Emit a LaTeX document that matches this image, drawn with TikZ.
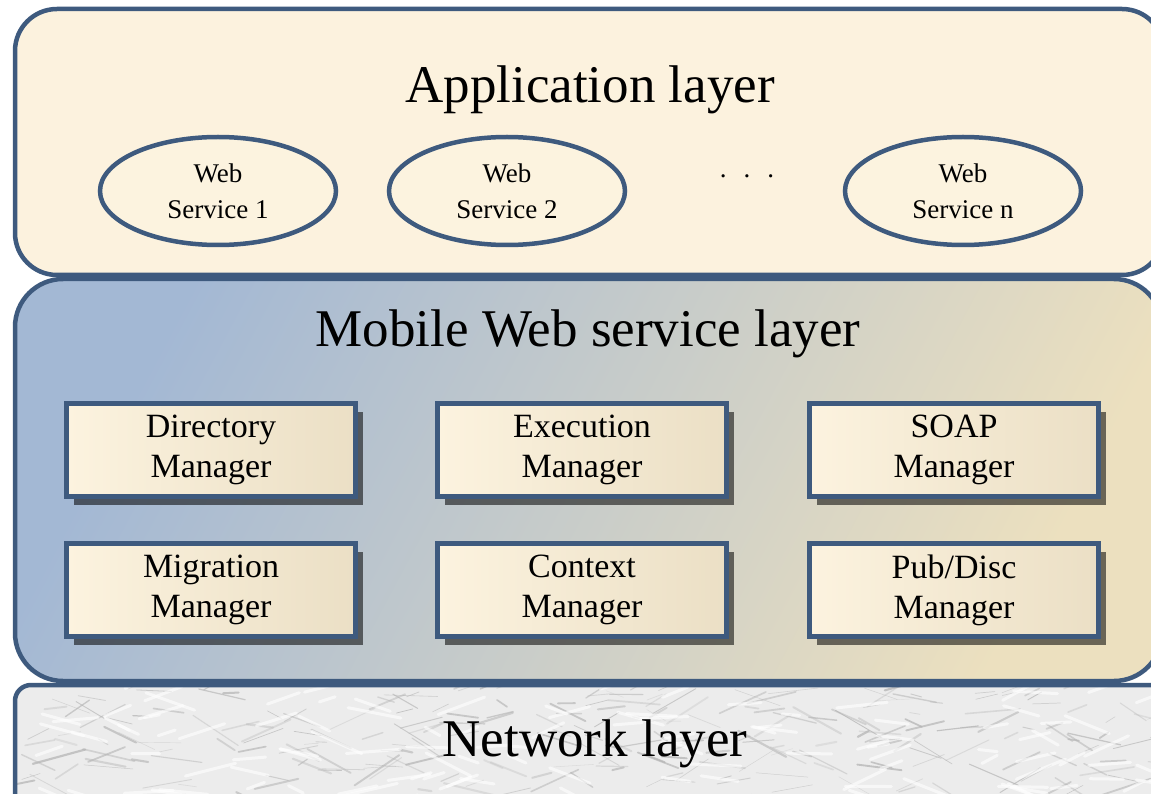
\documentclass[tikz,border=0pt]{standalone}
\usepackage{fontspec}
\setmainfont{Liberation Serif}
\usetikzlibrary{shapes.geometric,shadows}

\definecolor{edge}{HTML}{3E5A7E}
\definecolor{appfill}{HTML}{FCF2DE}
\definecolor{mblue}{HTML}{A3B8D4}
\definecolor{mmid}{HTML}{D9DCDD}
\definecolor{mtan}{HTML}{ECE0BF}
\definecolor{creamA}{HTML}{FCF3DF}
\definecolor{creamB}{HTML}{EBDFC5}
\definecolor{netfill}{HTML}{ECECEC}
\definecolor{streak}{HTML}{B4B4B4}

\tikzset{
  layer/.style={draw=edge, line width=4.5pt},
  title/.style={font=\fontsize{53}{60}\selectfont, inner sep=0pt},
  wsnode/.style={ellipse, draw=edge, line width=4.5pt, fill=creamA,
    minimum width=236pt, minimum height=108pt, inner sep=0pt,
    align=center, font=\fontsize{27}{36}\selectfont},
  mgr/.style={rectangle, draw=edge, line width=4.5pt,
    left color=creamA, right color=creamB,
    minimum width=289pt, minimum height=93pt, inner sep=0pt,
    align=center, font=\fontsize{34}{40}\selectfont,
    drop shadow={shadow xshift=7pt, shadow yshift=-8pt,
      fill=black, opacity=0.55}},
}

\begin{document}
\begin{tikzpicture}[x=1pt,y=-1pt]
\useasboundingbox (0,0) rectangle (1151,794);
\clip (0,0) rectangle (1151,794);
\fill[white] (0,0) rectangle (1151,794);

% network layer with a marble-like texture
\begin{scope}
  \clip[rounded corners=16pt] (15,685) rectangle (1180,830);
  \fill[netfill] (15,685) rectangle (1180,830);
  \pgfmathsetseed{11}
  \foreach \i in {1,...,260}{
    \pgfmathsetmacro{\px}{15+rnd*1150}
    \pgfmathsetmacro{\py}{688+rnd*110}
    \pgfmathsetmacro{\ang}{-35+rnd*70}
    \pgfmathsetmacro{\len}{10+rnd*45}
    \pgfmathsetmacro{\lw}{0.4+rnd*1.8}
    \pgfmathsetmacro{\op}{0.25+rnd*0.5}
    \draw[streak, line width=\lw pt, opacity=\op, line cap=round]
      (\px,\py) -- ++(\ang:\len);
  }
  \foreach \i in {1,...,120}{
    \pgfmathsetmacro{\px}{15+rnd*1150}
    \pgfmathsetmacro{\py}{688+rnd*110}
    \pgfmathsetmacro{\ang}{-30+rnd*60}
    \pgfmathsetmacro{\len}{15+rnd*40}
    \draw[white, line width=3pt, opacity=0.6, line cap=round]
      (\px,\py) -- ++(\ang:\len);
  }
\end{scope}
\draw[layer, rounded corners=16pt] (15,685) rectangle (1180,830);
\node[title] (net) at (595,744) {Network layer};

% mobile web service layer
\shade[top color=mblue, middle color=mmid, bottom color=mtan, shading angle=62]
  [rounded corners=48pt] (15,279) rectangle (1162,681);
\draw[layer, rounded corners=48pt] (15,279) rectangle (1162,681);
\node[title] (mob) at (588,334) {Mobile Web service layer};

% application layer
\draw[layer, fill=appfill, rounded corners=42pt] (15,9) rectangle (1164,275);
\node[title] (app) at (590,90) {Application layer};

% web services
\node[wsnode] (ws1) at (218,191) {Web\\Service 1};
\node[wsnode] (ws2) at (507,191) {Web\\Service 2};
\node[wsnode] (wsn) at (963,191) {Web\\Service n};
\node[font=\fontsize{27}{36}\selectfont, inner sep=0pt, anchor=base]
  (dots) at (747,178) {.\hspace{17pt}.\hspace{17pt}.};

% managers
\node[mgr] (dir)  at (211,450) {Directory\\Manager};
\node[mgr] (exe)  at (582,450) {Execution\\Manager};
\node[mgr] (soap) at (954,450) {SOAP\\Manager};
\node[mgr] (mig)  at (211,590) {Migration\\Manager};
\node[mgr] (ctx)  at (582,590) {Context\\Manager};
\node[mgr] (pub)  at (954,590) {Pub/Disc\\Manager};
\end{tikzpicture}
\end{document}
